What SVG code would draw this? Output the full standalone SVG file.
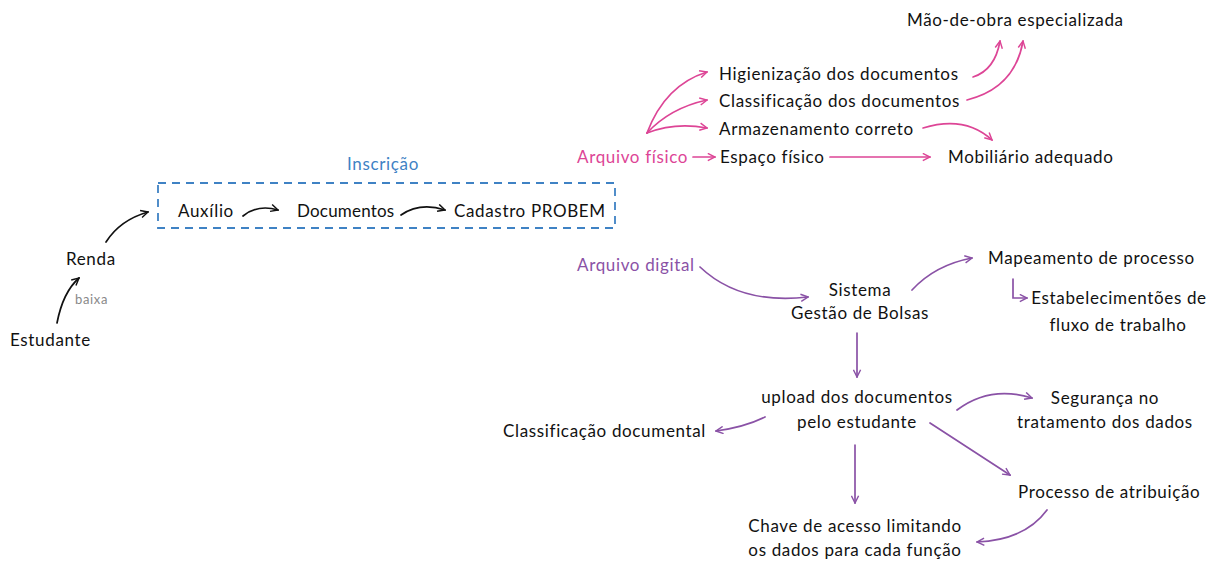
<svg xmlns="http://www.w3.org/2000/svg" width="1216" height="561" viewBox="0 0 1216 561">
<defs>
<style>
text{font-family:"Lato","Noto Sans","DejaVu Sans",sans-serif;font-size:17px;fill:#111;letter-spacing:0.65px;}
.pk{fill:#dd4596;}
.pu{fill:#8a52a6;}
.bl{fill:#3f82c4;}
.gr{fill:#888;font-size:13px;}
.c{text-anchor:middle;}
.e{fill:none;stroke-width:1.7;stroke-linecap:round;}
.ek{stroke:#111;}
.ep{stroke:#dd4596;}
.eu{stroke:#8a52a6;}
</style>
<marker id="mk" viewBox="0 0 10 10" refX="9" refY="5" markerWidth="9" markerHeight="9" markerUnits="userSpaceOnUse" orient="auto"><path d="M1,1 L9,5 L1,9" fill="none" stroke="#111" stroke-width="1.6"/></marker>
<marker id="mp" viewBox="0 0 10 10" refX="9" refY="5" markerWidth="9" markerHeight="9" markerUnits="userSpaceOnUse" orient="auto"><path d="M1,1 L9,5 L1,9" fill="none" stroke="#dd4596" stroke-width="1.6"/></marker>
<marker id="mu" viewBox="0 0 10 10" refX="9" refY="5" markerWidth="9" markerHeight="9" markerUnits="userSpaceOnUse" orient="auto"><path d="M1,1 L9,5 L1,9" fill="none" stroke="#8a52a6" stroke-width="1.6"/></marker>
</defs>
<rect width="1216" height="561" fill="#fff"/>
<g id="connectors">
<path class="e ek" d="M57,323 Q63,292 79,278" marker-end="url(#mk)"/>
<path class="e ek" d="M106,242 Q120,220 148,212" marker-end="url(#mk)"/>
<path class="e ek" d="M243,216 Q258,204 278,210" marker-end="url(#mk)"/>
<path class="e ek" d="M401,215 Q420,202 445,210" marker-end="url(#mk)"/>
<path class="e ep" d="M693,157 L715,157" marker-end="url(#mp)"/>
<path class="e ep" d="M830,157 L930,157" marker-end="url(#mp)"/>
<path class="e ep" d="M647,133 Q665,85 707,72" marker-end="url(#mp)"/>
<path class="e ep" d="M647,133 Q670,108 707,100" marker-end="url(#mp)"/>
<path class="e ep" d="M647,133 Q675,122 707,128" marker-end="url(#mp)"/>
<path class="e ep" d="M973,77 Q995,70 1000,41" marker-end="url(#mp)"/>
<path class="e ep" d="M967,100 Q1015,88 1023,41" marker-end="url(#mp)"/>
<path class="e ep" d="M923,128 Q965,115 992,140" marker-end="url(#mp)"/>
<path class="e eu" d="M700,267 Q740,305 808,297" marker-end="url(#mu)"/>
<path class="e eu" d="M912,290 Q935,265 972,258" marker-end="url(#mu)"/>
<path class="e eu" d="M1013,279 L1013,298 L1027,298" marker-end="url(#mu)"/>
<path class="e eu" d="M857,333 L857,377" marker-end="url(#mu)"/>
<path class="e eu" d="M765,417 Q745,427 716,431" marker-end="url(#mu)"/>
<path class="e eu" d="M855,445 L855,503" marker-end="url(#mu)"/>
<path class="e eu" d="M957,410 Q990,385 1032,398" marker-end="url(#mu)"/>
<path class="e eu" d="M930,423 L1010,475" marker-end="url(#mu)"/>
<path class="e eu" d="M1047,510 Q1025,540 977,542" marker-end="url(#mu)"/>
</g>
<g id="estudante"><text x="10" y="346">Estudante</text></g>
<g id="renda"><text x="66" y="265">Renda</text></g>
<g id="baixa"><text class="gr" x="75" y="304">baixa</text></g>
<g id="inscricao">
<rect x="158" y="183" width="457" height="45" fill="none" stroke="#3f82c4" stroke-width="1.8" stroke-dasharray="8,6"/>
<text class="bl c" x="383" y="170">Inscrição</text>
</g>
<g id="auxilio"><text x="178" y="217">Auxílio</text></g>
<g id="documentos"><text x="297" y="217" style="letter-spacing:0.2px">Documentos</text></g>
<g id="cadastro"><text x="454" y="217">Cadastro PROBEM</text></g>
<g id="arquivo-fisico"><text class="pk" x="577" y="163">Arquivo físico</text></g>
<g id="espaco"><text x="720" y="163">Espaço físico</text></g>
<g id="mobiliario"><text x="948" y="163">Mobiliário adequado</text></g>
<g id="armazenamento"><text x="719" y="135">Armazenamento correto</text></g>
<g id="classificacao"><text x="719" y="107">Classificação dos documentos</text></g>
<g id="higienizacao"><text x="719" y="80">Higienização dos documentos</text></g>
<g id="maodeobra"><text x="907" y="26">Mão-de-obra especializada</text></g>
<g id="arquivo-digital"><text class="pu" x="577" y="271">Arquivo digital</text></g>
<g id="sistema"><text class="c" x="860" y="296">Sistema</text><text class="c" x="860" y="319">Gestão de Bolsas</text></g>
<g id="mapeamento"><text x="988" y="264">Mapeamento de processo</text></g>
<g id="estabelecimentos"><text class="c" x="1119" y="304">Estabelecimentões de</text><text class="c" x="1118" y="331">fluxo de trabalho</text></g>
<g id="upload"><text class="c" x="857" y="403">upload dos documentos</text><text class="c" x="857" y="428">pelo estudante</text></g>
<g id="classificacao-doc"><text x="503" y="437">Classificação documental</text></g>
<g id="seguranca"><text class="c" x="1105" y="404">Segurança no</text><text class="c" x="1105" y="428">tratamento dos dados</text></g>
<g id="processo"><text x="1018" y="498">Processo de atribuição</text></g>
<g id="chave"><text class="c" x="855" y="532">Chave de acesso limitando</text><text class="c" x="855" y="556">os dados para cada função</text></g>
</svg>
